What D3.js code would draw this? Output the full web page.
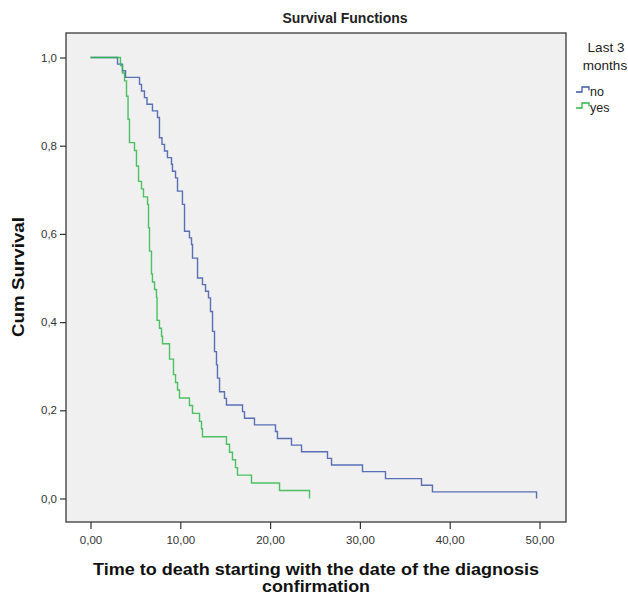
<!DOCTYPE html>
<html>
<head>
<meta charset="utf-8">
<script src="https://cdn.jsdelivr.net/npm/d3@7"></script>
<style>
  html, body { margin: 0; padding: 0; background: #ffffff; }
  svg { display: block; font-family: "Liberation Sans", Arial, sans-serif; }
</style>
</head>
<body>
<svg id="chart" width="628" height="598"></svg>
<script>
// ---- data ----
const xTicks = [0, 10, 20, 30, 40, 50];
const xTickLabels = ["0,00", "10,00", "20,00", "30,00", "40,00", "50,00"];
const yTicks = [0, 0.2, 0.4, 0.6, 0.8, 1.0];
const yTickLabels = ["0,0", "0,2", "0,4", "0,6", "0,8", "1,0"];
const seriesNames = ["no", "yes"];

const noTimes = [0, 3.01, 3.56, 3.90, 5.46, 5.68, 6.01, 6.29, 6.90, 7.46,
  7.68, 7.96, 8.24, 8.57, 9.02, 9.13, 9.47, 9.69, 10.24, 10.47,
  11.02, 11.25, 11.36, 11.92, 12.47, 12.81, 13.14, 13.36, 13.59, 13.81,
  14.03, 14.14, 14.37, 14.92, 15.14, 16.93, 17.15, 18.26, 20.60, 20.82,
  22.38, 23.50, 26.39, 26.84, 30.29, 32.85, 36.86, 38.08, 49.67];
const noSurv = [1, 0.985, 0.970, 0.955, 0.939, 0.924, 0.909, 0.894, 0.879, 0.864,
  0.818, 0.803, 0.788, 0.773, 0.758, 0.742, 0.727, 0.697, 0.667, 0.606,
  0.591, 0.576, 0.545, 0.500, 0.485, 0.470, 0.455, 0.424, 0.379, 0.333,
  0.303, 0.273, 0.242, 0.227, 0.212, 0.197, 0.182, 0.167, 0.152, 0.136,
  0.121, 0.106, 0.091, 0.076, 0.061, 0.045, 0.030, 0.015, 0];

const yesTimes = [0, 3.34, 3.56, 3.79, 4.01, 4.18, 4.34, 4.90, 5.12, 5.35,
  5.68, 5.90, 6.35, 6.46, 6.57, 6.79, 6.90, 7.13, 7.35, 7.41,
  7.68, 7.91, 8.02, 8.80, 9.24, 9.47, 9.69, 9.91, 11.02, 11.36,
  12.14, 12.36, 12.47, 15.14, 15.48, 15.81, 16.15, 16.37, 17.93, 21.05, 24.39];
const yesSurv = [1, 0.982, 0.965, 0.947, 0.912, 0.860, 0.807, 0.789, 0.754, 0.719,
  0.702, 0.684, 0.667, 0.614, 0.561, 0.509, 0.491, 0.474, 0.456, 0.404,
  0.386, 0.368, 0.351, 0.316, 0.281, 0.263, 0.246, 0.228, 0.211, 0.193,
  0.175, 0.158, 0.140, 0.123, 0.105, 0.088, 0.070, 0.053, 0.035, 0.018, 0];

// ---- layout ----
const svg = d3.select("#chart");
const frame = { left: 66, top: 33, right: 566, bottom: 522 };
const x = d3.scaleLinear().domain([0, 50]).range([90.5, 539.5]);
const y = d3.scaleLinear().domain([0, 1]).range([498.5, 57.5]);
const colors = { no: "#3e58ac", yes: "#2eb848" };

// plot background
svg.append("rect")
  .attr("x", frame.left).attr("y", frame.top)
  .attr("width", frame.right - frame.left).attr("height", frame.bottom - frame.top)
  .attr("fill", "#f0f0f0");

// curves
const line = d3.line().curve(d3.curveStepAfter).x(d => x(d[0])).y(d => y(d[1]));
const series = [
  { name: "no", data: noTimes.map((t, i) => [t, noSurv[i]]) },
  { name: "yes", data: yesTimes.map((t, i) => [t, yesSurv[i]]) }
];
svg.append("g").selectAll("path").data(series).join("path")
  .attr("d", d => line(d.data))
  .attr("fill", "none")
  .attr("stroke", d => colors[d.name])
  .attr("stroke-width", 1.4)
  .attr("opacity", 0.85);

// frame
svg.append("rect")
  .attr("x", frame.left).attr("y", frame.top)
  .attr("width", frame.right - frame.left).attr("height", frame.bottom - frame.top)
  .attr("fill", "none").attr("stroke", "#3a3a3a").attr("stroke-width", 1.3);

// x axis
const xAxis = d3.axisBottom(x).tickValues(xTicks)
  .tickFormat((d, i) => xTickLabels[i]).tickSize(7).tickPadding(7);
const gx = svg.append("g").attr("transform", `translate(0,${frame.bottom})`).call(xAxis);
gx.select(".domain").remove();
gx.selectAll(".tick line").attr("stroke", "#333").attr("stroke-width", 1.2);
gx.selectAll(".tick text").attr("font-size", 11.5).attr("fill", "#333")
  .attr("font-family", "Liberation Sans, Arial, sans-serif");

// y axis
const yAxis = d3.axisLeft(y).tickValues(yTicks)
  .tickFormat((d, i) => yTickLabels[i]).tickSize(6).tickPadding(3);
const gy = svg.append("g").attr("transform", `translate(${frame.left},0)`).call(yAxis);
gy.select(".domain").remove();
gy.selectAll(".tick line").attr("stroke", "#333").attr("stroke-width", 1.2);
gy.selectAll(".tick text").attr("font-size", 11.5).attr("fill", "#333")
  .attr("font-family", "Liberation Sans, Arial, sans-serif");

// title
svg.append("text").attr("x", 345).attr("y", 23).attr("text-anchor", "middle")
  .attr("font-size", 14).attr("font-weight", "bold").attr("fill", "#222")
  .text("Survival Functions");

// axis titles
svg.append("text").attr("x", 316).attr("y", 575).attr("text-anchor", "middle")
  .attr("font-size", 16).attr("font-weight", "bold").attr("fill", "#111")
  .attr("textLength", 446).attr("lengthAdjust", "spacingAndGlyphs")
  .text("Time to death starting with the date of the diagnosis");
svg.append("text").attr("x", 316).attr("y", 592).attr("text-anchor", "middle")
  .attr("font-size", 16).attr("font-weight", "bold").attr("fill", "#111")
  .attr("textLength", 108).attr("lengthAdjust", "spacingAndGlyphs")
  .text("confirmation");
svg.append("text").attr("transform", "translate(24,277) rotate(-90)")
  .attr("text-anchor", "middle")
  .attr("font-size", 16.5).attr("font-weight", "bold").attr("fill", "#111")
  .attr("textLength", 120).attr("lengthAdjust", "spacingAndGlyphs")
  .text("Cum Survival");

// legend
svg.append("text").attr("x", 606).attr("y", 52).attr("text-anchor", "middle")
  .attr("font-size", 13.5).attr("fill", "#222").text("Last 3");
svg.append("text").attr("x", 605).attr("y", 70).attr("text-anchor", "middle")
  .attr("font-size", 13.5).attr("fill", "#222").text("months");
const lg = svg.append("g").selectAll("g").data(seriesNames).join("g")
  .attr("transform", (d, i) => `translate(576,${92 + i * 16})`);
lg.append("path").attr("d", "M0,0H6V-5H13V-1.5")
  .attr("fill", "none").attr("stroke", d => colors[d]).attr("stroke-width", 1.3);
lg.append("text").attr("x", 14).attr("y", 4).attr("font-size", 12.5).attr("fill", "#222")
  .text(d => d);
</script>
</body>
</html>
